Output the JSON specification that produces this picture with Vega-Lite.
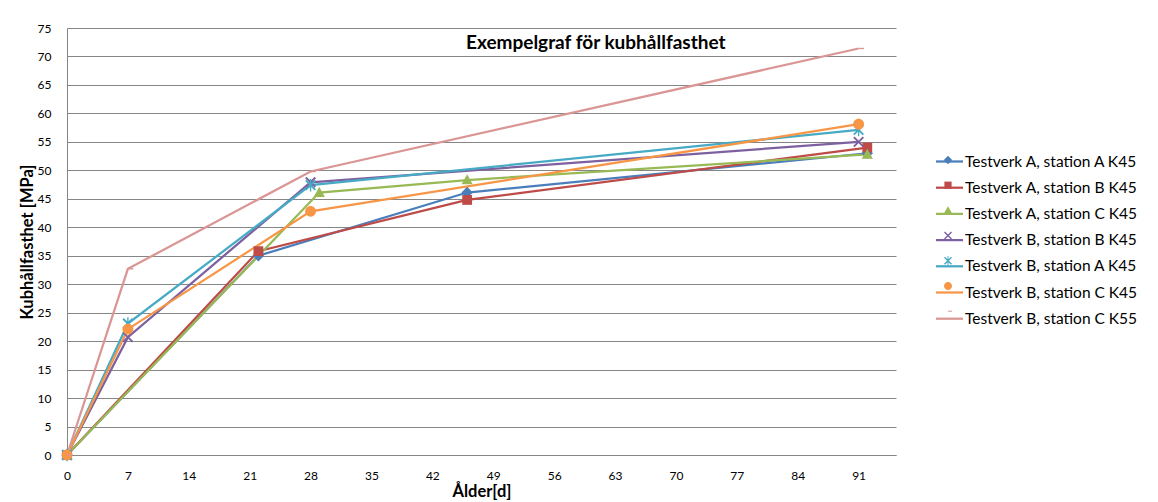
{
  "$schema": "https://vega.github.io/schema/vega-lite/v6.json",
  "width": 829,
  "height": 427,
  "autosize": {"type": "none"},
  "padding": {"left": 67, "top": 28, "right": 262, "bottom": 47},
  "background": "white",
  "config": {
    "font": "Lato",
    "view": {"stroke": null}
  },
  "title": {
    "text": "Exempelgraf för kubhållfasthet",
    "anchor": "start",
    "frame": "group",
    "dx": 399,
    "dy": 44,
    "baseline": "middle",
    "fontSize": 19,
    "fontWeight": "bold",
    "font": "Lato",
    "color": "#000000"
  },
  "data": {
    "values": [
      {"serie": "Testverk A, station A K45", "alder": 0, "styrka": 0},
      {"serie": "Testverk A, station A K45", "alder": 22, "styrka": 35.0},
      {"serie": "Testverk A, station A K45", "alder": 46, "styrka": 46.1},
      {"serie": "Testverk A, station A K45", "alder": 92, "styrka": 53.0},
      {"serie": "Testverk A, station B K45", "alder": 0, "styrka": 0},
      {"serie": "Testverk A, station B K45", "alder": 22, "styrka": 35.8},
      {"serie": "Testverk A, station B K45", "alder": 46, "styrka": 44.8},
      {"serie": "Testverk A, station B K45", "alder": 92, "styrka": 54.0},
      {"serie": "Testverk A, station C K45", "alder": 0, "styrka": 0},
      {"serie": "Testverk A, station C K45", "alder": 29, "styrka": 46.1},
      {"serie": "Testverk A, station C K45", "alder": 46, "styrka": 48.3},
      {"serie": "Testverk A, station C K45", "alder": 92, "styrka": 52.8},
      {"serie": "Testverk B, station B K45", "alder": 0, "styrka": 0},
      {"serie": "Testverk B, station B K45", "alder": 7, "styrka": 20.7},
      {"serie": "Testverk B, station B K45", "alder": 28, "styrka": 47.9},
      {"serie": "Testverk B, station B K45", "alder": 91, "styrka": 55.0},
      {"serie": "Testverk B, station A K45", "alder": 0, "styrka": 0},
      {"serie": "Testverk B, station A K45", "alder": 7, "styrka": 23.1},
      {"serie": "Testverk B, station A K45", "alder": 28, "styrka": 47.4},
      {"serie": "Testverk B, station A K45", "alder": 91, "styrka": 57.1},
      {"serie": "Testverk B, station C K45", "alder": 0, "styrka": 0},
      {"serie": "Testverk B, station C K45", "alder": 7, "styrka": 22.1},
      {"serie": "Testverk B, station C K45", "alder": 28, "styrka": 42.8},
      {"serie": "Testverk B, station C K45", "alder": 91, "styrka": 58.1},
      {"serie": "Testverk B, station C K55", "alder": 0, "styrka": 0},
      {"serie": "Testverk B, station C K55", "alder": 7, "styrka": 32.7},
      {"serie": "Testverk B, station C K55", "alder": 28, "styrka": 49.8},
      {"serie": "Testverk B, station C K55", "alder": 91, "styrka": 71.4}
    ]
  },
  "encoding": {
    "x": {
      "field": "alder",
      "type": "quantitative",
      "scale": {"domain": [0, 95.3], "nice": false, "zero": false},
      "axis": {
        "title": "Ålder[d]",
        "values": [0, 7, 14, 21, 28, 35, 42, 49, 56, 63, 70, 77, 84, 91],
        "grid": false,
        "ticks": false,
        "domainColor": "#868686",
        "domainWidth": 1,
        "labelFont": "Lato",
        "labelFontSize": 12,
        "labelColor": "#000000",
        "labelPadding": 15,
        "labelFlush": false,
        "titleFont": "Lato",
        "titleFontSize": 16.5,
        "titleFontWeight": "bold",
        "titleColor": "#000000",
        "titlePadding": 2
      }
    },
    "y": {
      "field": "styrka",
      "type": "quantitative",
      "scale": {"domain": [0, 75], "nice": false},
      "axis": {
        "title": "Kubhållfasthet [MPa]",
        "values": [0, 5, 10, 15, 20, 25, 30, 35, 40, 45, 50, 55, 60, 65, 70, 75],
        "grid": true,
        "gridColor": "#868686",
        "gridWidth": 1,
        "ticks": false,
        "domainColor": "#868686",
        "domainWidth": 1,
        "labelFont": "Lato",
        "labelFontSize": 12,
        "labelColor": "#000000",
        "labelPadding": 16,
        "labelFlush": false,
        "titleFont": "Lato",
        "titleFontSize": 16.5,
        "titleFontWeight": "bold",
        "titleColor": "#000000",
        "titlePadding": 2
      }
    }
  },
  "layer": [
    {
      "mark": {"type": "line", "strokeWidth": 2.25},
      "encoding": {
        "order": {"field": "alder", "type": "quantitative"},
        "stroke": {
          "field": "serie",
          "type": "nominal",
          "scale": {
            "domain": [
              "Testverk A, station A K45",
              "Testverk A, station B K45",
              "Testverk A, station C K45",
              "Testverk B, station B K45",
              "Testverk B, station A K45",
              "Testverk B, station C K45",
              "Testverk B, station C K55"
            ],
            "range": ["#4A7EBB", "#BE4B48", "#98B954", "#7D60A0", "#46AAC5", "#F79646", "#D99694"]
          },
          "legend": {
            "title": null,
            "orient": "none",
            "legendX": 871,
            "legendY": 122,
            "padding": 0,
            "symbolType": "M-1.35,0H1.35",
            "symbolSize": 400,
            "symbolStrokeWidth": 2.25,
            "symbolOpacity": 1,
            "rowPadding": 6.2,
            "labelOffset": 4,
            "labelFont": "Lato",
            "labelFontSize": 15.5,
            "labelColor": "#000000",
            "labelLimit": 300
          }
        }
      }
    },
    {
      "mark": {"type": "point", "filled": true, "size": 740, "strokeWidth": 0, "opacity": 1},
      "encoding": {
        "fill": {
          "field": "serie",
          "type": "nominal",
          "scale": {
            "domain": [
              "Testverk A, station A K45",
              "Testverk A, station B K45",
              "Testverk A, station C K45",
              "Testverk B, station B K45",
              "Testverk B, station A K45",
              "Testverk B, station C K45",
              "Testverk B, station C K55",
              "-"
            ],
            "range": ["#4A7EBB", "#BE4B48", "#98B954", "#7D60A0", "#46AAC5", "#F79646", "#D99694", "transparent"]
          },
          "legend": {
            "title": null,
            "orient": "none",
            "legendX": 871,
            "legendY": 122,
            "padding": 0,
            "symbolSize": 400,
            "symbolStrokeWidth": 0,
            "symbolStrokeColor": "transparent",
            "symbolOpacity": 1,
            "rowPadding": 6.2,
            "labelOffset": 4,
            "labelFont": "Lato",
            "labelFontSize": 15.5,
            "labelOpacity": 0,
            "labelLimit": 300
          }
        },
        "shape": {
          "field": "serie",
          "type": "nominal",
          "scale": {
            "domain": [
              "Testverk A, station A K45",
              "Testverk A, station B K45",
              "Testverk A, station C K45",
              "Testverk B, station B K45",
              "Testverk B, station A K45",
              "Testverk B, station C K45",
              "Testverk B, station C K55",
              "-"
            ],
            "range": [
              "M-0.42,0L0,-0.42L0.42,0L0,0.42Z",
              "M-0.36,-0.36H0.36V0.36H-0.36Z",
              "M0,-0.42L0.41,0.32H-0.41Z",
              "M-0.3,-0.4L0.4,0.3L0.3,0.4L-0.4,-0.3ZM-0.4,0.3L0.3,-0.4L0.4,-0.3L-0.3,0.4Z",
              "M-0.3,-0.4L0.4,0.3L0.3,0.4L-0.4,-0.3ZM-0.4,0.3L0.3,-0.4L0.4,-0.3L-0.3,0.4ZM-0.05,-0.46H0.05V0.46H-0.05Z",
              "M-0.4,0A0.4,0.4,0,1,1,0.4,0A0.4,0.4,0,1,1,-0.4,0Z",
              "M0,-0.05H0.4V0.05H0Z",
              "M0,0"
            ]
          }
        }
      }
    }
  ]
}
